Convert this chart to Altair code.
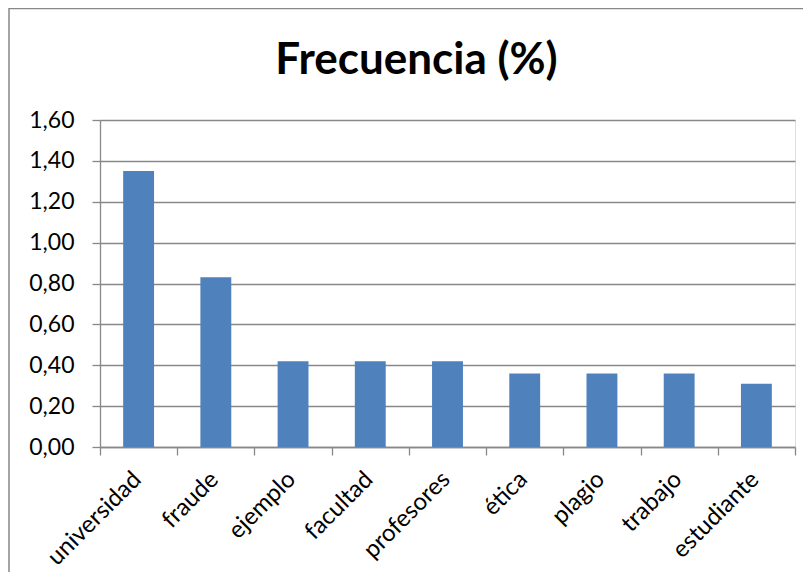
import altair as alt
import pandas as pd

categories = ["universidad", "fraude", "ejemplo", "facultad", "profesores",
              "ética", "plagio", "trabajo", "estudiante"]
values = [1.35, 0.83, 0.42, 0.42, 0.42, 0.36, 0.36, 0.36, 0.31]
y_ticks = [0.0, 0.2, 0.4, 0.6, 0.8, 1.0, 1.2, 1.4, 1.6]
title_text = "Frecuencia (%)"

df = pd.DataFrame({"palabra": categories, "frecuencia": values})

W, H = 695, 327
FONT = "Lato"
GRID = "#888888"

bars = alt.Chart(df).mark_bar(
    color="#4F81BD", width=alt.RelativeBandSize(0.4)
).encode(
    x=alt.X(
        "palabra:N", sort=categories,
        scale=alt.Scale(paddingInner=0, paddingOuter=0),
        axis=alt.Axis(
            title=None, labelAngle=-45, labelAlign="right", labelBaseline="top",
            tickBand="extent", tickSize=8, tickColor=GRID, tickWidth=1.3,
            domainColor=GRID, domainWidth=1.3, labelPadding=12, labelOffset=-10,
            labelFont=FONT, labelFontSize=24, labelColor="#000000", grid=False,
        ),
    ),
    y=alt.Y(
        "frecuencia:Q",
        scale=alt.Scale(domain=[0, 1.6], nice=False),
        axis=alt.Axis(
            title=None, values=y_ticks,
            labelExpr="replace(format(datum.value, '.2f'), '.', ',')",
            tickSize=8, tickColor=GRID, tickWidth=1.3,
            domainColor=GRID, domainWidth=1.3,
            grid=True, gridColor=GRID, gridWidth=1.3,
            labelPadding=18, labelFont=FONT, labelFontSize=23, labelColor="#000000",
        ),
    ),
)

border = alt.Chart(pd.DataFrame({"a": [0]})).mark_rect(
    fillOpacity=0, stroke="#888888", strokeWidth=1.5
).encode(
    x=alt.value(-91), x2=alt.value(W + 60),
    y=alt.value(-111.5), y2=alt.value(H + 200),
)

title = alt.Chart(pd.DataFrame({"t": [title_text]})).mark_text(
    font=FONT, fontSize=44, fontWeight="bold", color="#000000",
    align="center", baseline="alphabetic",
).encode(
    text="t:N", x=alt.value(316.5), y=alt.value(-46),
)

chart = alt.layer(border, bars, title).properties(
    width=W, height=H,
    autosize=alt.AutoSizeParams(type="none"),
    padding={"left": 92, "top": 112, "right": 8, "bottom": 125},
).configure_view(stroke=None).configure(background="#ffffff")

chart.save("out.html", embed_options={"renderer": "svg", "actions": False})
